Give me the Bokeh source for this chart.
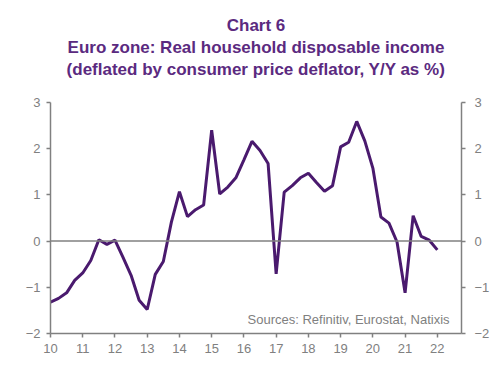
from bokeh.plotting import figure
from bokeh.models import Range1d, LinearAxis, FixedTicker, Span, Label, Title
from bokeh.embed import file_html
from bokeh.resources import INLINE

# Quarterly data, year as decimal (10 = 2010)
quarters = [10.0, 10.25, 10.5, 10.75, 11.0, 11.25, 11.5, 11.75,
            12.0, 12.25, 12.5, 12.75, 13.0, 13.25, 13.5, 13.75,
            14.0, 14.25, 14.5, 14.75, 15.0, 15.25, 15.5, 15.75,
            16.0, 16.25, 16.5, 16.75, 17.0, 17.25, 17.5, 17.75,
            18.0, 18.25, 18.5, 18.75, 19.0, 19.25, 19.5, 19.75,
            20.0, 20.25, 20.5, 20.75, 21.0, 21.25, 21.5, 21.75, 22.0]
income_yoy = [-1.32, -1.24, -1.12, -0.85, -0.69, -0.42, 0.03, -0.07,
              0.02, -0.35, -0.74, -1.28, -1.48, -0.72, -0.44, 0.41,
              1.07, 0.53, 0.68, 0.78, 2.40, 1.02, 1.17, 1.37,
              1.76, 2.16, 1.96, 1.68, -0.71, 1.06, 1.20, 1.37,
              1.47, 1.27, 1.08, 1.20, 2.04, 2.14, 2.59, 2.17,
              1.58, 0.52, 0.39, -0.02, -1.12, 0.55, 0.10, 0.02, -0.19]
x_ticks = [10, 11, 12, 13, 14, 15, 16, 17, 18, 19, 20, 21, 22]
y_ticks = [-2, -1, 0, 1, 2, 3]
title_lines = ["Chart 6",
               "Euro zone: Real household disposable income",
               "(deflated by consumer price deflator, Y/Y as %)"]
source_note = "Sources: Refinitiv, Eurostat, Natixis"

FONT = "Liberation Sans"
GRAY = "#808080"
PURPLE_T = "#5b2a80"
PURPLE_L = "#4a1a6e"

p = figure(width=492, height=365, output_backend="svg", toolbar_location=None,
           x_range=Range1d(10, 22.75), y_range=Range1d(-2, 3),
           min_border_left=50, min_border_right=30, min_border_top=102, min_border_bottom=32)
p.outline_line_color = None
p.grid.visible = False
p.background_fill_color = "white"
p.title.visible = False

# spacer between the frame and the title block
p.add_layout(Title(text=" ", text_font=FONT, text_font_size="16px", standoff=4), "above")
for line in reversed(title_lines):
    t = Title(text=line, align="center", text_font=FONT,
              text_font_size="17px", text_font_style="bold",
              text_color=PURPLE_T, standoff=1)
    p.add_layout(t, "above")

def style_axis(ax):
    ax.axis_line_color = GRAY
    ax.axis_line_width = 1.5
    ax.major_tick_line_color = GRAY
    ax.major_tick_line_width = 1.5
    ax.major_tick_in = 0
    ax.major_tick_out = 4
    ax.minor_tick_line_color = None
    ax.major_label_text_font = FONT
    ax.major_label_text_font_size = "13px"
    ax.major_label_text_color = GRAY

p.xaxis.ticker = FixedTicker(ticks=x_ticks)
p.yaxis.ticker = FixedTicker(ticks=y_ticks)
style_axis(p.xaxis[0])
style_axis(p.yaxis[0])
p.xaxis.major_label_standoff = 6
p.yaxis.major_label_standoff = 6

right = LinearAxis(ticker=FixedTicker(ticks=y_ticks))
style_axis(right)
right.major_label_standoff = 9
p.add_layout(right, "right")

p.add_layout(Span(location=0, dimension="width", line_color=GRAY, line_width=1.5))

p.line(quarters, income_yoy, line_color=PURPLE_L, line_width=3)

p.add_layout(Label(x=22.38, y=-1.87, text=source_note,
                   text_align="right", text_font=FONT, text_font_size="13px",
                   text_color=GRAY))

open("out.html", "w").write(file_html(p, INLINE))
